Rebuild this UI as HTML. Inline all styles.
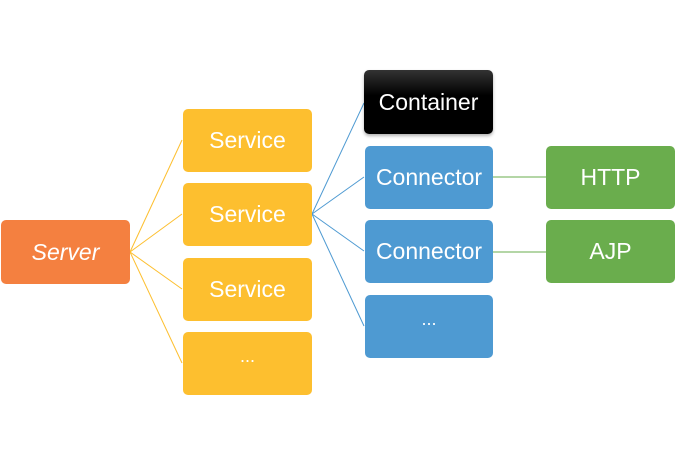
<!DOCTYPE html>
<html><head><style>
body{margin:0;width:676px;height:466px;background:#fff;position:relative;overflow:hidden;font-family:"Liberation Sans",sans-serif;}
.b{position:absolute;border-radius:5px;color:#fff;font-size:23px;display:flex;align-items:center;justify-content:center;}
.y{background:#fdbf2f;left:183px;width:129px;height:63px;}
.bl{background:#4e9ad2;left:365px;width:128px;height:63px;}
.g{background:#6aad4d;left:546px;width:129px;height:63px;}
svg{position:absolute;left:0;top:0;}
</style></head><body>
<svg width="676" height="466">
<g stroke="#fdbf2f" stroke-width="1">
<line x1="130" y1="252" x2="182" y2="140"/><line x1="130" y1="252" x2="182" y2="214"/>
<line x1="130" y1="252" x2="182" y2="289"/><line x1="130" y1="252" x2="182" y2="363"/>
</g>
<g stroke="#4e9ad2" stroke-width="1">
<line x1="312" y1="214" x2="364" y2="103"/><line x1="312" y1="214" x2="364" y2="177"/>
<line x1="312" y1="214" x2="364" y2="251"/><line x1="312" y1="214" x2="364" y2="326"/>
</g>
<g stroke="#6aad4d" stroke-width="1">
<line x1="493" y1="177" x2="546" y2="177"/><line x1="493" y1="252" x2="546" y2="252"/>
</g>
</svg>
<div class="b" style="background:#f48040;left:1px;top:220px;width:129px;height:64px;font-style:italic;">Server</div>
<div class="b y" style="top:109px">Service</div>
<div class="b y" style="top:183px">Service</div>
<div class="b y" style="top:258px">Service</div>
<div class="b y" style="top:332px;height:63px;padding-bottom:14px;box-sizing:border-box;font-size:18px">...</div>
<div class="b" style="background:linear-gradient(#333,#000 40%);left:364px;top:70px;width:129px;height:64px;box-shadow:0 2px 3px rgba(0,0,0,.3)">Container</div>
<div class="b bl" style="top:146px">Connector</div>
<div class="b bl" style="top:220px">Connector</div>
<div class="b bl" style="top:295px;padding-bottom:14px;box-sizing:border-box;font-size:18px">...</div>
<div class="b g" style="top:146px">HTTP</div>
<div class="b g" style="top:220px">AJP</div>
</body></html>
